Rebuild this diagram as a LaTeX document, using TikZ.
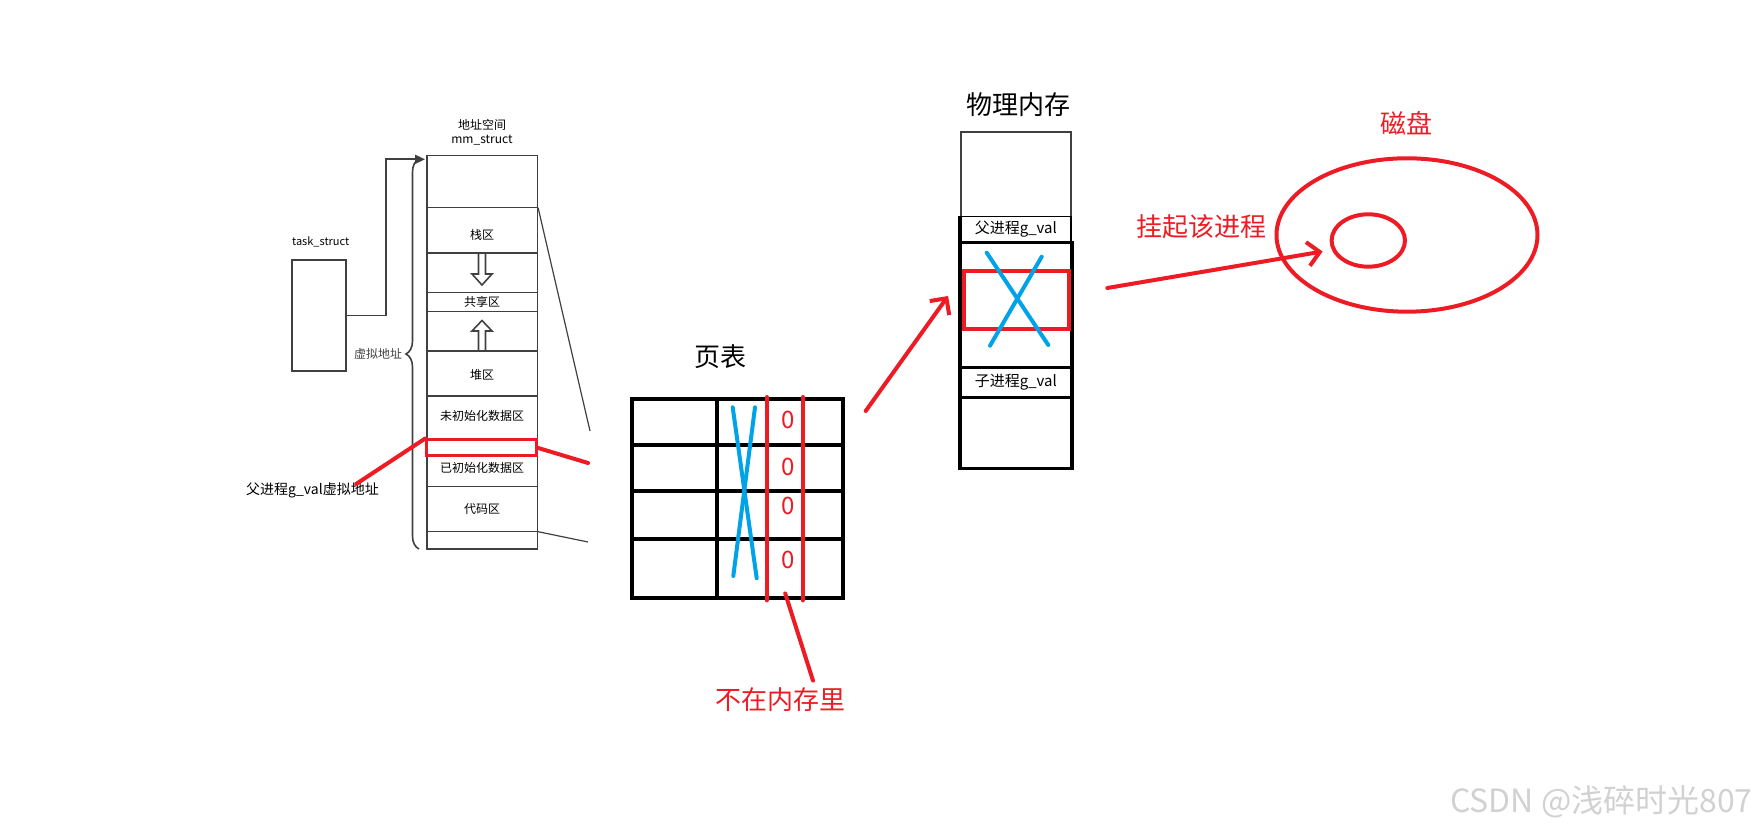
\documentclass[tikz,border=0pt]{standalone}
\usepackage{fontspec}
\setmainfont{Noto Sans CJK SC}
\usetikzlibrary{arrows.meta,calc,decorations.pathreplacing,shapes.geometric}
\definecolor{paintred}{HTML}{ED1C24}
\definecolor{paintblue}{HTML}{00A2E8}
\definecolor{linegray}{HTML}{404040}

\begin{document}
\begin{tikzpicture}[x=0.5pt, y=-0.5pt,
    thinbox/.style={draw=linegray, line width=0.8pt, inner sep=0pt},
    small/.style={font=\fontsize{6}{7}\selectfont, inner sep=0pt},
    big/.style={font=\fontsize{13}{15}\selectfont, inner sep=0pt},
    redpen/.style={draw=paintred, line width=2pt, line cap=round},
    bluepen/.style={draw=paintblue, line width=2pt, line cap=round},
    barb/.style={-{Straight Barb[length=6pt, width=12pt, line width=2pt]}}]
  \useasboundingbox (0,0) rectangle (1763,833);

  \node[font=\fontsize{5.5}{6}\selectfont, inner sep=0pt] (tslab) at (320.7,241.7) {task\_struct};
  \node[thinbox, minimum width=27pt, minimum height=55.5pt] (ts) at (318.7,315.5) {};
  \node[small] (mmlab1) at (482,125) {地址空间};
  \node[small] (mmlab2) at (482,140) {mm\_struct};
  \node[thinbox, minimum width=55.3pt, minimum height=196.7pt] (mm) at (482,352.3) {};
  \foreach \y in {207.7,253.3,292.7,311.7,351,396,440,486.7,531.7}
    \draw[linegray, line width=0.8pt] (mm.west |- 0,\y) -- (mm.east |- 0,\y);
  \node[small] (stack) at (482,235) {栈区};
  \node[small] (shared) at (482,302) {共享区};
  \node[small] (heap) at (482,375) {堆区};
  \node[small] (bss) at (482,416) {未初始化数据区};
  \node[small] (data) at (482,468) {已初始化数据区};
  \node[small] (code) at (482,509) {代码区};
  \draw[linegray, line width=0.8pt] (478.5,253.3) -- (478.5,274) -- (472,274) -- (482,285)
    -- (492,274) -- (485.5,274) -- (485.5,253.3);
  \draw[linegray, line width=0.8pt] (478.5,351) -- (478.5,331) -- (472,331) -- (482,320.5)
    -- (492,331) -- (485.5,331) -- (485.5,351);
  \coordinate (mmtop) at (425,159.3);
  \draw[linegray, line width=0.8pt, -{Triangle[length=5pt, width=4.5pt]}] (ts.east) -| (386,159.3) -- (mmtop);
  \draw[linegray, line width=0.8pt, decorate, decoration={brace, amplitude=6.5pt}]
    (419,549) -- (419,159) node[midway, left=8pt, small] (va) {虚拟地址};
  \node[draw=paintred, line width=1.5pt, minimum width=55pt, minimum height=8pt, inner sep=0pt] (vbox) at (481.7,448) {};
  \node[font=\fontsize{7}{8}\selectfont, inner sep=0pt] (gv) at (312.5,490) {父进程g\_val虚拟地址};
  \draw[redpen] ($(gv.north east)+(-23,2)$) -- (vbox.north west);
  \coordinate (ptin) at (588,463);
  \draw[redpen] (vbox.east) -- (ptin);
  \coordinate (ptup) at (590,431);
  \coordinate (ptdown) at (588,542);
  \draw[linegray, line width=0.6pt] (mm.east |- 0,207.7) -- (ptup);
  \draw[linegray, line width=0.6pt] (mm.east |- 0,531.7) -- (ptdown);

  \node[big] (pttitle) at (720,356.7) {页表};
  \node[draw, line width=2pt, minimum width=105.5pt, minimum height=99.7pt, inner sep=0pt] (pt) at (737.2,498.7) {};
  \foreach \y in {445,490.7,539.3}
    \draw[line width=2pt] (pt.west |- 0,\y) -- (pt.east |- 0,\y);
  \draw[line width=2pt] (pt.north -| 716.7,0) -- (pt.south -| 716.7,0);
  \foreach \x in {766.7,802.7}
    \draw[redpen] (pt.north -| \x,0) -- (pt.south -| \x,0);
  \foreach \y/\n in {420/z1,466.7/z2,506/z3,560/z4}
    \node[font=\fontsize{12}{14}\selectfont, text=paintred, inner sep=0pt] (\n) at (788.3,\y) {0};
  \draw[bluepen] (732.7,407.3) -- (756.7,578.3);
  \draw[bluepen] (755,407.3) -- (733.3,576);
  \node[big, text=paintred] (nomem) at (780,700) {不在内存里};
  \draw[redpen] ($(nomem.north)+(33,-7)$) -- ($(pt.south)+(48,-7)$);

  \node[big] (pmtitle) at (1018,105) {物理内存};
  \node[thinbox, minimum width=55.2pt, minimum height=167.7pt] (pm) at (1015.9,300) {};
  \node[thinbox, draw=black, minimum width=55.2pt, minimum height=12.5pt, font=\fontsize{7.5}{8}\selectfont] (pv) at (1015.9,229.2) {父进程g\_val};
  \draw[line width=1.6pt] (pv.south west) rectangle (pm.south east);
  \draw[line width=1.6pt] (pv.north west) -- (pv.south west);
  \node[draw, line width=1.6pt, minimum width=55.2pt, minimum height=15pt, inner sep=0pt, font=\fontsize{7.5}{8}\selectfont] (cv) at (1015.9,382.3) {子进程g\_val};
  \node[draw=paintred, line width=2pt, minimum width=52.6pt, minimum height=29.3pt, inner sep=0pt] (frame) at (1016.7,300) {};
  \draw[bluepen] (986.7,252.7) -- (1048.3,345);
  \draw[bluepen] (1041.7,256.7) -- (990,345.7);
  \draw[redpen, barb] ($(pt.north east)+(21,14)$) -- ($(frame.west)+(-14,-4)$);

  \node[big, text=paintred] (disklab) at (1406,123.3) {磁盘};
  \node[draw=paintred, line width=2pt, ellipse, minimum width=130.5pt, minimum height=76.7pt, inner sep=0pt] (disk) at (1407,235) {};
  \node[draw=paintred, line width=2pt, ellipse, minimum width=36.7pt, minimum height=26.2pt, inner sep=0pt] (track) at (1368.3,240.5) {};
  \node[big, text=paintred] (hang) at (1201.7,226.7) {挂起该进程};
  \draw[redpen, barb] ($(frame.east)+(36,-12)$) -- ($(track.west)+(-7,11)$);

  \node[font=\fontsize{16}{18}\selectfont, text=black!18, anchor=east, inner sep=0pt] (mark) at (1753,802) {CSDN @浅碎时光807};
\end{tikzpicture}
\end{document}
